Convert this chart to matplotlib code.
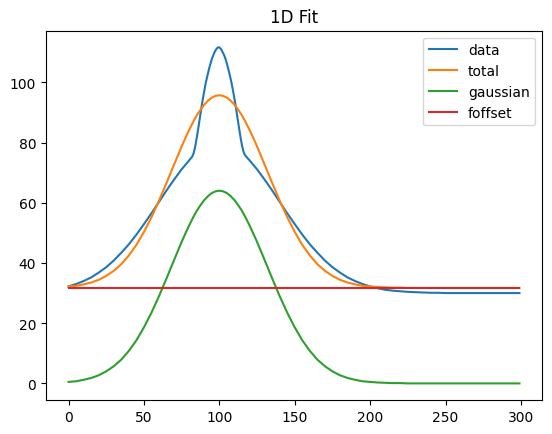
import matplotlib
matplotlib.use('Agg')
import matplotlib.pyplot as plt

x_data = [0, 5, 10, 15, 20, 25, 30, 35, 40, 45, 50, 55, 60, 65, 70, 75, 80,
          82, 83, 84, 85, 86, 87, 88, 89, 90, 91, 92, 93, 94, 95, 96, 97, 98, 99,
          100, 101, 102, 103, 104, 105, 106, 107, 108, 109, 110, 111, 112, 113,
          114, 115, 116, 117,
          120, 125, 130, 135, 140, 145, 150, 155, 160, 165, 170, 175, 180, 185,
          190, 195, 200, 205, 210, 215, 220, 225, 230, 235, 240, 245,
          250, 255, 260, 265, 270, 275, 280, 285, 290, 295, 299]
data = [32.2, 33.0, 34.0, 35.2, 36.8, 38.6, 40.8, 43.4, 46.2, 49.4, 52.9, 56.5,
        60.3, 64.1, 67.7, 71.1, 74.1,
        75.3, 76.5, 78.7, 81.5, 84.6, 87.9, 91.2, 94.3, 97.1, 99.8, 102.0, 104.1,
        106.0, 107.7, 109.0, 110.2, 111.0, 111.6,
        111.6, 111.1, 110.2, 109.2, 107.9, 106.2, 104.3, 102.2, 100.0, 97.4,
        94.6, 91.6, 88.3, 85.0, 81.9, 79.1, 77.0, 75.8,
        74.1, 71.1, 67.7, 64.1, 60.3, 56.5, 52.9, 49.4, 46.2, 43.4, 40.8, 38.6,
        36.8, 35.2, 34.0, 33.0, 32.2, 31.6, 31.1, 30.8, 30.6, 30.4, 30.3, 30.2,
        30.1, 30.1,
        30.0, 30.0, 30.0, 30.0, 30.0, 30.0, 30.0, 30.0, 30.0, 30.0, 30.0]

# fit components
x_fit = [0, 5, 10, 15, 20, 25, 30, 35, 40, 45, 50, 55, 60, 65,
         70, 72.5, 75, 77.5, 80, 82.5, 85, 87.5, 90, 92.5, 95, 97.5, 100,
         102.5, 105, 107.5, 110, 112.5, 115, 117.5, 120, 122.5, 125, 127.5, 130,
         135, 140, 145, 150, 155, 160, 165, 170, 175, 180, 185, 190, 195, 200,
         205, 210, 215, 220, 225, 230, 235, 240, 245, 250, 255, 260, 265, 270,
         275, 280, 285, 290, 295, 299]
total = [32.2, 32.4, 32.9, 33.5, 34.4, 35.7, 37.4, 39.6, 42.5, 46.0, 50.3, 55.2,
         60.7, 66.6,
         72.7, 75.7, 78.7, 81.5, 84.2, 86.7, 89.0, 90.9, 92.6, 93.9, 94.9, 95.5,
         95.7,
         95.5, 94.9, 93.9, 92.6, 90.9, 89.0, 86.7, 84.2, 81.5, 78.7, 75.7, 72.7,
         66.6, 60.7, 55.2, 50.3, 46.0, 42.5, 39.6, 37.4, 35.7, 34.4, 33.5, 32.9,
         32.4, 32.2, 32.0, 31.9, 31.8, 31.8,
         31.7, 31.7, 31.7, 31.7, 31.7, 31.7, 31.7, 31.7, 31.7, 31.7, 31.7, 31.7,
         31.7, 31.7, 31.7, 31.7]
gaussian = [0.5, 0.7, 1.2, 1.8, 2.7, 4.0, 5.7, 7.9, 10.8, 14.3, 18.6, 23.5,
            29.0, 34.9,
            41.0, 44.0, 47.0, 49.8, 52.5, 55.0, 57.3, 59.2, 60.9, 62.2, 63.2,
            63.8, 64.0,
            63.8, 63.2, 62.2, 60.9, 59.2, 57.3, 55.0, 52.5, 49.8, 47.0, 44.0,
            41.0,
            34.9, 29.0, 23.5, 18.6, 14.3, 10.8, 7.9, 5.7, 4.0, 2.7, 1.8, 1.2,
            0.7, 0.5, 0.3, 0.2, 0.1, 0.1,
            0.0, 0.0, 0.0, 0.0, 0.0, 0.0, 0.0, 0.0, 0.0, 0.0, 0.0, 0.0, 0.0,
            0.0, 0.0, 0.0]
foffset = 31.7

fig = plt.figure(figsize=(5.52, 4.35), dpi=100)
ax = fig.add_axes([0.0833, 0.0777, 0.8986, 0.8497])

ax.plot(x_data, data, label='data')
ax.plot(x_fit, total, label='total')
ax.plot(x_fit, gaussian, label='gaussian')
ax.plot(x_fit, [foffset] * len(x_fit), label='foffset')

ax.set_title('1D Fit')
ax.legend(loc='upper right')

fig.savefig('out.png', dpi=100)
